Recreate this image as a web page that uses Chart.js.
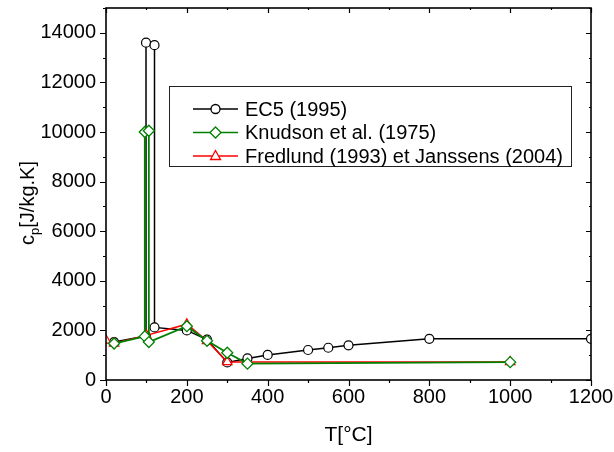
<!DOCTYPE html>
<html>
<head>
<meta charset="utf-8">
<script src="https://cdn.jsdelivr.net/npm/chart.js@4.4.0/dist/chart.umd.min.js"></script>
<style>
  html, body { margin: 0; padding: 0; background: #fff; }
  #wrap { width: 614px; height: 452px; position: relative; }
</style>
</head>
<body>
<div id="wrap"><canvas id="myChart" width="614" height="452"></canvas></div>
<script>
// series labels
var seriesNames = ['EC5 (1995)', 'Knudson et al. (1975)', 'Fredlund (1993) et Janssens (2004)'];

// EC5 (1995)
var ec5T  = [20, 99, 99, 120, 120, 200, 250, 300, 350, 400, 500, 550, 600, 800, 1200];
var ec5Cp = [1530, 1770, 13600, 13500, 2120, 2000, 1630, 710, 870, 1010, 1210, 1300, 1400, 1660, 1660];

// Knudson et al. (1975)
var knuT  = [20, 96, 96, 106, 106, 200, 250, 300, 350, 1000];
var knuCp = [1470, 1760, 10000, 10050, 1530, 2170, 1580, 1100, 660, 720];

// Fredlund (1993) et Janssens (2004)
var freT  = [0, 20, 100, 200, 250, 300, 1000];
var freCp = [1600, 1480, 1800, 2250, 1580, 730, 730];

var seriesColors = ['#000000', '#008000', '#ff0000'];
var seriesMarkers = ['circle', 'rectRot', 'triangle'];

function toPoints(xs, ys) {
    var pts = [];
    for (let i = 0; i < xs.length; i++) {
        pts.push({x: xs[i], y: ys[i]});
    }
    return pts;
}

var FONT = '"Liberation Sans", Arial, sans-serif';

// draw a marker the way the legend needs it
function drawMarker(ctx, style, x, y, color) {
    ctx.save();
    ctx.fillStyle = '#fff';
    ctx.strokeStyle = color;
    ctx.lineWidth = 1.3;
    ctx.beginPath();
    if (style == 'circle') {
        ctx.arc(x, y, 4.5, 0, Math.PI * 2);
    } else if (style == 'rectRot') {
        ctx.moveTo(x, y - 5.5); ctx.lineTo(x + 5.5, y); ctx.lineTo(x, y + 5.5); ctx.lineTo(x - 5.5, y);
        ctx.closePath();
    } else {
        ctx.moveTo(x, y - 5.5); ctx.lineTo(x + 5, y + 3.5); ctx.lineTo(x - 5, y + 3.5);
        ctx.closePath();
    }
    ctx.fill();
    ctx.stroke();
    ctx.restore();
}

var framePlugin = {
    id: 'framePlugin',
    afterDraw: function (chart) {
        var ctx = chart.ctx;
        var a = chart.chartArea;
        var xs = chart.scales.x, ys = chart.scales.y;
        ctx.save();
        ctx.strokeStyle = '#000';
        ctx.lineWidth = 1.6;
        ctx.strokeRect(a.left, a.top, a.right - a.left, a.bottom - a.top);
        ctx.lineWidth = 1.2;
        ctx.beginPath();
        //x ticks, outward at bottom, inward at top
        for (let v = 0; v <= 1200; v += 100) {
            var px = Math.round(xs.getPixelForValue(v)) + 0.5;
            var len = (v % 200 == 0) ? 6 : 3;
            ctx.moveTo(px, a.bottom); ctx.lineTo(px, a.bottom + len);
            ctx.moveTo(px, a.top); ctx.lineTo(px, a.top + len - 1);
        }
        //y ticks
        for (let v = 0; v <= 15000; v += 1000) {
            var py = Math.round(ys.getPixelForValue(v)) + 0.5;
            var len2 = (v % 2000 == 0) ? 6 : 3;
            ctx.moveTo(a.left, py); ctx.lineTo(a.left - len2, py);
            ctx.moveTo(a.right, py); ctx.lineTo(a.right - len2 + 1, py);
        }
        ctx.stroke();

        //y axis title with subscript
        ctx.translate(28, 203);
        ctx.rotate(-Math.PI / 2);
        ctx.fillStyle = '#000';
        ctx.textBaseline = 'middle';
        ctx.font = '20px ' + FONT;
        var w1 = ctx.measureText('c').width;
        var w3 = ctx.measureText('[J/kg.K]').width;
        ctx.font = '13px ' + FONT;
        var w2 = ctx.measureText('p').width;
        var start = -(w1 + w2 + w3) / 2;
        ctx.font = '20px ' + FONT;
        ctx.fillText('c', start, 0);
        ctx.font = '13px ' + FONT;
        ctx.fillText('p', start + w1, 7);
        ctx.font = '20px ' + FONT;
        ctx.fillText('[J/kg.K]', start + w1 + w2, 0);
        ctx.restore();

        //legend box
        ctx.save();
        ctx.fillStyle = '#fff';
        ctx.fillRect(169.5, 86.5, 402, 80);
        ctx.strokeStyle = '#222';
        ctx.lineWidth = 1;
        ctx.strokeRect(169.5, 86.5, 402, 80);
        ctx.font = '20px ' + FONT;
        ctx.textBaseline = 'middle';
        for (let i = 0; i < seriesNames.length; i++) {
            var ly = 109 + i * 23.5;
            ctx.strokeStyle = seriesColors[i];
            ctx.lineWidth = 1.5;
            ctx.beginPath();
            ctx.moveTo(193, ly); ctx.lineTo(238, ly);
            ctx.stroke();
            drawMarker(ctx, seriesMarkers[i], 215.5, ly, seriesColors[i]);
            ctx.fillStyle = '#000';
            ctx.fillText(seriesNames[i], 245, ly + 1);
        }
        ctx.restore();
    }
};

var ctx = document.getElementById('myChart').getContext('2d');
var myChart = new Chart(ctx, {
    type: 'line',
    data: {
        datasets: [{
            label: seriesNames[0],
            data: toPoints(ec5T, ec5Cp),
            borderColor: seriesColors[0],
            borderWidth: 1.5,
            pointStyle: seriesMarkers[0],
            pointRadius: 4.5,
            pointBorderWidth: 1.2,
            pointBackgroundColor: '#fff',
            pointBorderColor: seriesColors[0],
            order: 3
        }, {
            label: seriesNames[1],
            data: toPoints(knuT, knuCp),
            borderColor: seriesColors[1],
            borderWidth: 1.8,
            pointStyle: seriesMarkers[1],
            pointRadius: 5.5,
            pointBorderWidth: 1.3,
            pointBackgroundColor: '#fff',
            pointBorderColor: seriesColors[1],
            order: 1
        }, {
            label: seriesNames[2],
            data: toPoints(freT, freCp),
            borderColor: seriesColors[2],
            borderWidth: 1.5,
            pointStyle: seriesMarkers[2],
            pointRadius: 5.5,
            pointBorderWidth: 1.2,
            pointBackgroundColor: '#fff',
            pointBorderColor: seriesColors[2],
            order: 2
        }]
    },
    options: {
        responsive: false,
        animation: false,
        layout: {
            padding: {left: 40, right: 23, top: 8, bottom: 0}
        },
        scales: {
            x: {
                type: 'linear',
                min: 0,
                max: 1200,
                grid: {display: false, drawTicks: false},
                border: {display: false},
                afterFit: function (s) {
                    s.height = 72;
                    s.paddingLeft = 0;
                    s.paddingRight = 0;
                },
                ticks: {
                    stepSize: 200,
                    maxRotation: 0,
                    padding: 5,
                    color: '#000',
                    font: {size: 20, family: FONT},
                    callback: function (v) { return String(v); }
                },
                title: {
                    display: true,
                    text: 'T[°C]',
                    color: '#000',
                    font: {size: 21, family: FONT},
                    padding: {top: 16, bottom: 4}
                }
            },
            y: {
                min: 0,
                max: 15000,
                grid: {display: false, drawTicks: false},
                border: {display: false},
                afterFit: function (s) {
                    s.width = 66;
                    s.paddingTop = 0;
                    s.paddingBottom = 0;
                },
                ticks: {
                    stepSize: 1000,
                    padding: 10,
                    color: '#000',
                    font: {size: 20, family: FONT},
                    callback: function (v) { return v % 2000 == 0 ? String(v) : ''; }
                }
            }
        },
        plugins: {
            legend: {display: false},
            tooltip: {enabled: false}
        }
    },
    plugins: [framePlugin]
});
</script>
</body>
</html>
